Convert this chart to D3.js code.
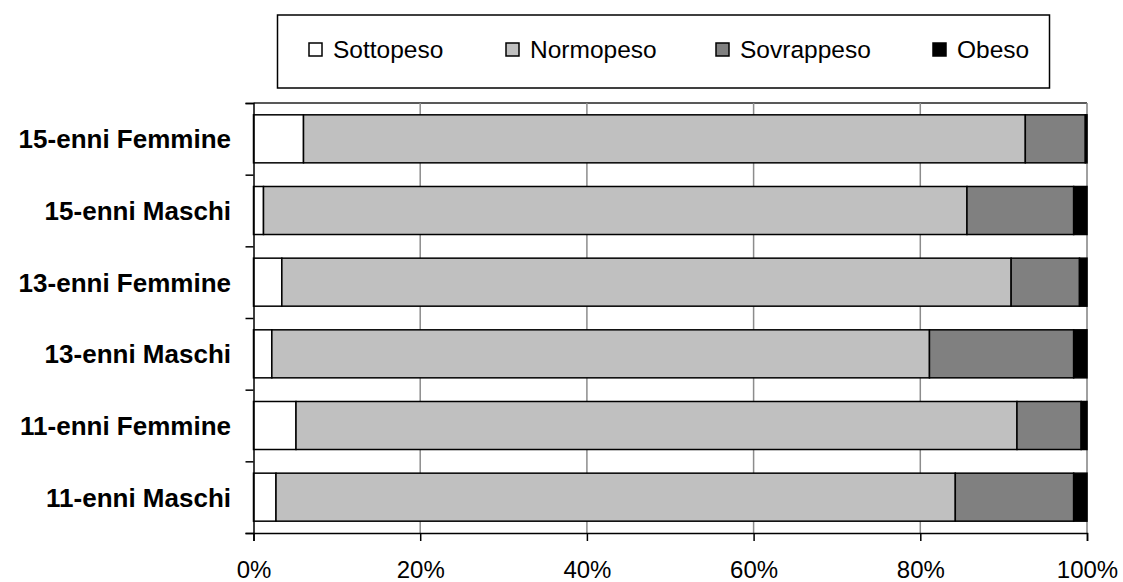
<!DOCTYPE html>
<html>
<head>
<meta charset="utf-8">
<script src="https://cdn.jsdelivr.net/npm/d3@7"></script>
<style>
  body { margin: 0; background: #fff; }
  svg { font-family: "Liberation Sans", Arial, sans-serif; }
</style>
</head>
<body>
<div class="chart"></div>
<script>
// data (percentages)
const categories = [
  "15-enni Femmine", "15-enni Maschi", "13-enni Femmine",
  "13-enni Maschi", "11-enni Femmine", "11-enni Maschi"
];
const series = ["Sottopeso", "Normopeso", "Sovrappeso", "Obeso"];
const sottopeso  = [6.0, 1.2, 3.4, 2.2, 5.1, 2.7];
const normopeso  = [86.6, 84.4, 87.5, 78.9, 86.5, 81.5];
const sovrappeso = [7.2, 12.8, 8.2, 17.3, 7.7, 14.2];
const obeso      = [0.2, 1.6, 0.9, 1.6, 0.7, 1.6];
const xTicks = [0, 0.2, 0.4, 0.6, 0.8, 1];

const colours = ["#ffffff", "#c0c0c0", "#808080", "#000000"];

const width = 1123, height = 582;
const plotLeft = 253.5, plotRight = 1087, plotTop = 103, plotBottom = 533;

const rows = categories.map((c, i) => {
  const tot = sottopeso[i] + normopeso[i] + sovrappeso[i] + obeso[i];
  return {
    cat: c,
    Sottopeso: sottopeso[i] / tot,
    Normopeso: normopeso[i] / tot,
    Sovrappeso: sovrappeso[i] / tot,
    Obeso: obeso[i] / tot
  };
});

const stacked = d3.stack().keys(series)(rows);

const x = d3.scaleLinear().domain([0, 1]).range([plotLeft, plotRight]);
const y = d3.scaleBand().domain(categories).range([plotTop, plotBottom])
  .paddingInner(0.33).paddingOuter(0.165);

const svg = d3.select(".chart").append("svg")
  .attr("width", width)
  .attr("height", height);

// plot frame
svg.append("line")
  .attr("x1", plotLeft).attr("x2", plotRight).attr("y1", plotTop).attr("y2", plotTop)
  .attr("stroke", "#222").attr("stroke-width", 1.5);
svg.append("line")
  .attr("x1", plotRight).attr("x2", plotRight).attr("y1", plotTop).attr("y2", plotBottom)
  .attr("stroke", "#808080").attr("stroke-width", 1.5);

// gridlines
svg.append("g").selectAll("line")
  .data(xTicks.slice(1, -1))
  .enter().append("line")
  .attr("x1", d => x(d)).attr("x2", d => x(d))
  .attr("y1", plotTop).attr("y2", plotBottom)
  .attr("stroke", "#8c8c8c").attr("stroke-width", 1.5);

// bars
svg.append("g").selectAll("g")
  .data(stacked)
  .enter().append("g")
  .attr("fill", (d, i) => colours[i])
  .selectAll("rect")
  .data(d => d)
  .enter().append("rect")
  .attr("x", d => x(d[0]))
  .attr("width", d => x(d[1]) - x(d[0]))
  .attr("y", d => y(d.data.cat))
  .attr("height", y.bandwidth())
  .attr("stroke", "#000")
  .attr("stroke-width", 1.5);

// x axis
const xAxis = d3.axisBottom(x)
  .tickValues(xTicks)
  .tickFormat(d3.format(".0%"))
  .tickSize(8)
  .tickPadding(20);

const gx = svg.append("g")
  .attr("transform", "translate(0," + plotBottom + ")")
  .call(xAxis);
gx.select(".domain").attr("stroke", "#000").attr("stroke-width", 1.5);
gx.selectAll(".tick line").attr("stroke", "#000").attr("stroke-width", 1.5);
gx.selectAll(".tick text")
  .attr("font-size", 24)
  .attr("font-family", "Liberation Sans, Arial, sans-serif")
  .attr("fill", "#000");

// y axis: ticks on the category boundaries
const yb = d3.scaleLinear().domain([0, categories.length]).range([plotTop, plotBottom]);
const gy = svg.append("g")
  .attr("transform", "translate(" + plotLeft + ",0)")
  .call(d3.axisLeft(yb).ticks(categories.length).tickSize(8).tickFormat(""));
gy.select(".domain").attr("stroke", "#000").attr("stroke-width", 1.5);
gy.selectAll(".tick line").attr("stroke", "#000").attr("stroke-width", 1.5);

svg.append("g").selectAll("text")
  .data(categories)
  .enter().append("text")
  .attr("x", 231)
  .attr("y", d => y(d) + y.bandwidth() / 2)
  .attr("dy", "0.36em")
  .attr("text-anchor", "end")
  .attr("font-size", 26)
  .attr("font-weight", "bold")
  .attr("fill", "#000")
  .text(d => d);

// legend
const legend = svg.append("g").attr("class", "legend");
legend.append("rect")
  .attr("x", 277.5).attr("y", 15)
  .attr("width", 772).attr("height", 73)
  .attr("fill", "#fff")
  .attr("stroke", "#000").attr("stroke-width", 1.5);

const legendX = [309, 506, 716, 933];
const item = legend.selectAll("g.item")
  .data(series)
  .enter().append("g")
  .attr("class", "item")
  .attr("transform", (d, i) => "translate(" + legendX[i] + ",43)");

item.append("rect")
  .attr("width", 13).attr("height", 13)
  .attr("fill", (d, i) => colours[i])
  .attr("stroke", "#000").attr("stroke-width", 1.5);

item.append("text")
  .attr("x", 24)
  .attr("y", 15)
  .attr("font-size", 24.5)
  .attr("fill", "#000")
  .text(d => d);
</script>
</body>
</html>
